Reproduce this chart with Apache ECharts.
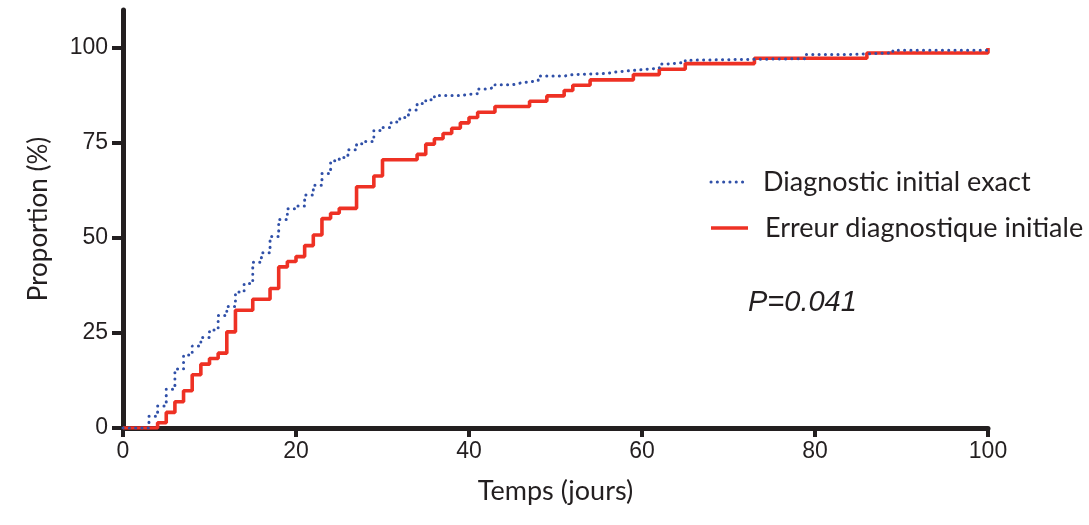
<!DOCTYPE html>
<html>
<head>
<meta charset="utf-8">
<script src="https://cdn.jsdelivr.net/npm/echarts@6/dist/echarts.min.js"></script>
<style>
html,body{margin:0;padding:0;background:#fff;}
#chart{width:1089px;height:525px;}
</style>
</head>
<body>
<div id="chart"></div>
<script>
// Kaplan-Meier style cumulative curves: [day of step, % after step]
const seriesNames = ['Diagnostic initial exact', 'Erreur diagnostique initiale'];

const blueDays = [0,3,4,5,6,7,8,9,10,11,12,13,14,15,16,17,18,19,20,21,22,23,24,25,26,27,28,29,30,31,32,33,34,35,36,39,40,41,42,43,45,46,47,48,51,52,56,57,58,60,62,63,65,66,79,84,89,100];
const blueVals = [0,3.1,5.8,10.2,15.5,19.2,21.6,23.8,25.8,29.6,32.0,35.8,38.0,43.6,46.1,50.4,54.9,57.7,58.4,61.3,63.9,67.0,70.3,71.2,73.2,74.8,75.4,78.3,79.1,80.5,81.7,83.7,85.4,86.4,87.5,87.8,88.0,89.2,89.6,90.3,90.8,91.1,91.4,92.6,93.0,93.3,93.7,93.9,94.3,94.7,95.8,96.2,96.8,97.2,98.3,98.7,99.4,99.4];

const redDays = [0,4,5,6,7,8,9,10,11,12,13,15,17,18,19,20,21,22,23,24,25,27,29,30,34,35,36,37,38,39,40,41,43,47,49,51,52,54,59,62,65,73,86,100,100];
const redVals = [0,1.4,4.1,6.9,9.8,14.0,16.8,18.3,19.7,25.3,31.0,33.9,36.7,42.4,43.8,45.1,48.0,50.8,55.1,56.5,57.8,63.5,66.3,70.6,72.0,74.7,76.1,77.5,78.9,80.3,81.7,83.1,84.6,86.0,87.4,88.8,90.2,91.6,93.0,94.4,95.9,97.3,98.7,98.7,100];

const xTicks = [0,20,40,60,80,100];
const yTicks = [0,25,50,75,100];
const pText = 'P=0.041';

const zip = (a, b) => a.map((v, i) => [v, b[i]]);

const axisColor = '#231f20';
const blue = '#3050a8';
const red = '#ee3124';
const legendFont = 'Lato, sans-serif';

const chart = echarts.init(document.getElementById('chart'), null, {renderer: 'canvas'});
chart.setOption({
  animation: false,
  backgroundColor: '#ffffff',
  grid: {left: 123, right: 101, top: 10, bottom: 97, containLabel: false},
  xAxis: {
    type: 'value',
    min: 0, max: 100, interval: 20,
    offset: 3,
    name: 'Temps (jours)',
    nameLocation: 'middle',
    nameGap: 47,
    nameTextStyle: {fontFamily: 'Lato, sans-serif', fontSize: 27, color: '#231f20'},
    axisLine: {show: true, lineStyle: {color: axisColor, width: 5}},
    axisTick: {show: true, length: 9, lineStyle: {color: axisColor, width: 4}, customValues: xTicks},
    axisLabel: {customValues: xTicks, margin: 9, fontFamily: "'Liberation Sans', Arial, sans-serif", fontSize: 23, color: '#231f20'},
    splitLine: {show: false}
  },
  yAxis: {
    type: 'value',
    min: 0, max: 110,
    name: 'Proportion (%)',
    nameLocation: 'middle',
    nameRotate: 90,
    nameGap: 71,
    nameTextStyle: {fontFamily: 'Lato, sans-serif', fontSize: 26, color: '#231f20'},
    axisLine: {show: true, lineStyle: {color: axisColor, width: 5}},
    axisTick: {show: true, length: 11, lineStyle: {color: axisColor, width: 4}, customValues: yTicks},
    axisLabel: {customValues: yTicks, margin: 15, fontFamily: "'Liberation Sans', Arial, sans-serif", fontSize: 23, color: '#231f20'},
    splitLine: {show: false}
  },
  series: [
    {
      name: seriesNames[1],
      type: 'line',
      step: 'end',
      data: zip(redDays, redVals),
      showSymbol: false,
      symbol: 'none',
      z: 2,
      lineStyle: {color: red, width: 3.6},
      itemStyle: {color: red}
    },
    {
      name: seriesNames[0],
      type: 'line',
      step: 'end',
      data: zip(blueDays, blueVals),
      showSymbol: false,
      symbol: 'none',
      z: 3,
      lineStyle: {color: blue, width: 3, type: [0.1, 6.2], cap: 'round'},
      itemStyle: {color: blue}
    }
  ],
  graphic: [
    {
      type: 'line',
      shape: {x1: 711, y1: 182, x2: 746, y2: 182},
      style: {stroke: blue, lineWidth: 3, lineDash: [0.1, 6.2], lineCap: 'round'}
    },
    {
      type: 'text',
      left: 763, top: 169,
      style: {text: seriesNames[0], fontFamily: legendFont, fontSize: 27, fill: '#231f20'}
    },
    {
      type: 'line',
      shape: {x1: 711, y1: 228, x2: 748, y2: 228},
      style: {stroke: red, lineWidth: 3.6}
    },
    {
      type: 'text',
      left: 765, top: 215,
      style: {text: seriesNames[1], fontFamily: legendFont, fontSize: 27, fill: '#231f20'}
    },
    {
      type: 'text',
      left: 748,
      top: 288,
      style: {
        text: pText,
        fontFamily: "'Liberation Sans', Arial, sans-serif",
        fontStyle: 'italic',
        fontSize: 29,
        fill: '#231f20'
      }
    }
  ]
});
</script>
</body>
</html>
